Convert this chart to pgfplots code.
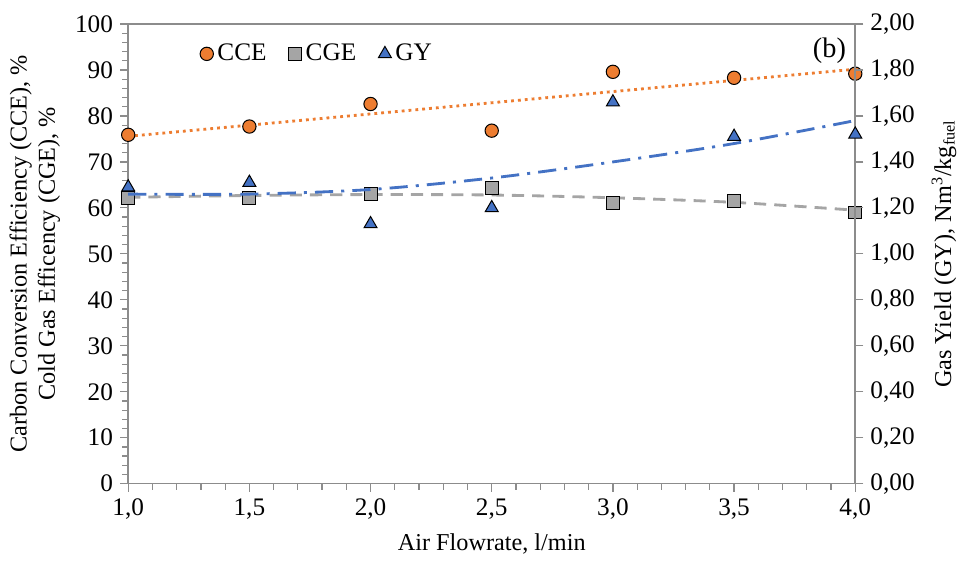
\documentclass[border=0pt]{standalone}
\usepackage{pgfplots}
\pgfplotsset{compat=1.18}
\usepackage{fontspec}
\setmainfont{Liberation Serif}
\definecolor{cceor}{HTML}{ED7D31}
\definecolor{cgegr}{HTML}{A5A5A5}
\definecolor{gybl}{HTML}{4472C4}
\definecolor{axgr}{HTML}{8C8C8C}

\pgfplotsset{
  common/.style={
    scale only axis, width=360pt, height=227.6pt,
    xmin=1, xmax=4,
    axis line style={axgr, line width=0.8pt},
    tick style={axgr, line width=0.6pt},
    tick align=outside,
    major tick length=4pt, minor tick length=3pt,
    font=\fontsize{12}{14}\selectfont,
    tick label style={font=\fontsize{12.5}{14}\selectfont},
    /pgf/number format/assume math mode=true,
    /pgf/number format/use comma,
    /pgf/number format/fixed,
    /pgf/number format/fixed zerofill,
  },
}

\begin{document}
\begin{tikzpicture}
\begin{axis}[common,
  axis x line*=bottom,
  axis y line*=left,
  xtick={1,1.5,...,4}, minor x tick num=4,
  x tick label style={/pgf/number format/precision=1},
  ymin=0, ymax=100, ytick={0,10,...,100}, minor y tick num=4,
  y tick label style={/pgf/number format/precision=0, /pgf/number format/fixed zerofill=false},
  xlabel={Air Flowrate, l/min},
  ylabel={\begin{tabular}{c}Carbon Conversion Efficiency (CCE), \%\\Cold Gas Efficency (CGE), \%\end{tabular}},
  ylabel style={yshift=-1pt},
  clip=false,
]
% trend lines
\addplot[cceor, line width=1.4pt, dotted, forget plot] coordinates {(1,75.57) (4,90.17)};
\addplot[cgegr, line width=1.4pt, dash pattern=on 6pt off 4pt, smooth, forget plot] coordinates {
  (1,62.3) (1.5,62.7) (2,62.9) (2.5,62.8) (3,62.2) (3.5,61.2) (4,59.5)};
% data
\addplot[only marks, mark=*, mark size=3.3pt, mark options={fill=cceor, draw=black, line width=0.5pt}] coordinates {
  (1,75.9) (1.5,77.7) (2,82.6) (2.5,76.8) (3,89.6) (3.5,88.3) (4,89.2)};
\addplot[only marks, mark=square*, mark size=3.2pt, mark options={fill=cgegr, draw=black, line width=0.5pt}] coordinates {
  (1,62.2) (1.5,62.2) (2,63.1) (2.5,64.4) (3,61.0) (3.5,61.4) (4,59.0)};
\draw[axgr, line width=0.8pt] (rel axis cs:0,1) -- (rel axis cs:1,1);
\node[anchor=north east, font=\fontsize{14}{16}\selectfont] at (rel axis cs:0.997,0.985) {(b)};
\path (rel axis cs:0.5,1) -- +(0,11.9pt);
\end{axis}

\begin{axis}[common,
  axis x line=none,
  axis y line*=right,
  ymin=0, ymax=2, ytick={0,0.2,...,2.01},
  y tick label style={/pgf/number format/precision=2},
  ylabel={Gas Yield (GY), Nm\textsuperscript{3}/kg\textsubscript{fuel}},
  ylabel style={yshift=-1.5pt},
  legend style={draw=none, fill=none, at={(0.09,0.975)}, anchor=north west,
    legend columns=-1, font=\fontsize{12.5}{14}\selectfont,
    /tikz/every even column/.append style={column sep=9pt}},
  legend cell align=left,
]
\addlegendimage{only marks, mark=*, mark size=3.3pt, mark options={fill=cceor, draw=black, line width=0.5pt}}
\addlegendentry{CCE}
\addlegendimage{only marks, mark=square*, mark size=3.2pt, mark options={fill=cgegr, draw=black, line width=0.5pt}}
\addlegendentry{CGE}
\addplot[gybl, line width=1.4pt, dash pattern=on 9pt off 4pt on 1.5pt off 4pt, smooth, forget plot] coordinates {
  (1,1.26) (1.5,1.26) (2,1.28) (2.5,1.33) (3,1.40) (3.5,1.48) (4,1.58)};
\addplot[only marks, mark=triangle*, mark size=3.7pt, mark options={fill=gybl, draw=black, line width=0.5pt}] coordinates {
  (1,1.29) (1.5,1.31) (2,1.13) (2.5,1.20) (3,1.66) (3.5,1.51) (4,1.52)};
\addlegendentry{GY}
\end{axis}
\end{tikzpicture}
\end{document}
